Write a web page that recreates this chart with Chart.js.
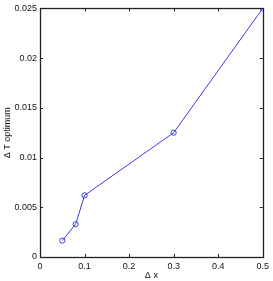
<!DOCTYPE html>
<html>
<head>
<meta charset="utf-8">
<script src="https://cdn.jsdelivr.net/npm/chart.js@4/dist/chart.umd.min.js"></script>
<style>
html,body{margin:0;padding:0;background:#fff;}
#wrap{width:273px;height:281px;}
</style>
</head>
<body>
<div id="wrap"><canvas id="c" width="273" height="281"></canvas></div>
<script>
const dxValues = [0.05, 0.08, 0.1, 0.3, 0.5];
const dtOptimum = [0.00165, 0.0033, 0.0062, 0.0125, 0.025];
const xTicks = [0, 0.1, 0.2, 0.3, 0.4, 0.5];
const yTicks = [0, 0.005, 0.01, 0.015, 0.02, 0.025];
const xTitle = 'Δ x';
const yTitle = 'Δ T optimum';

const points = dxValues.map((x, i) => ({x: x, y: dtOptimum[i]}));
const FONT = {family: 'Liberation Sans, Arial, sans-serif', size: 9};

const boxPlugin = {
  id: 'box',
  afterDraw(chart) {
    const ctx = chart.ctx;
    const a = chart.chartArea;
    const xs = chart.scales.x, ys = chart.scales.y;
    ctx.save();
    ctx.strokeStyle = '#222';
    ctx.lineWidth = 1;
    ctx.beginPath();
    xTicks.forEach(v => {
      const px = Math.round(xs.getPixelForValue(v)) + 0.5;
      ctx.moveTo(px, a.bottom); ctx.lineTo(px, a.bottom - 3);
      ctx.moveTo(px, a.top); ctx.lineTo(px, a.top + 3);
    });
    yTicks.forEach(v => {
      const py = Math.round(ys.getPixelForValue(v)) + 0.5;
      ctx.moveTo(a.left, py); ctx.lineTo(a.left + 3, py);
      ctx.moveTo(a.right, py); ctx.lineTo(a.right - 3, py);
    });
    ctx.stroke();
    ctx.lineWidth = 1.3;
    ctx.strokeRect(Math.round(a.left) + 0.5, Math.round(a.top) + 0.5,
      Math.round(a.right - a.left), Math.round(a.bottom - a.top));
    ctx.restore();
  }
};

new Chart(document.getElementById('c'), {
  type: 'scatter',
  data: {
    datasets: [{
      data: points,
      showLine: true,
      borderColor: 'rgb(60,60,230)',
      backgroundColor: 'rgba(0,0,0,0)',
      borderWidth: 1,
      pointRadius: 2.6,
      pointBorderWidth: 1,
      pointBorderColor: 'rgb(60,60,230)',
      pointBackgroundColor: 'rgba(0,0,0,0)',
      tension: 0
    }]
  },
  options: {
    responsive: false,
    animation: false,
    devicePixelRatio: 1,
    layout: {padding: {top: 7, right: 6, left: 0, bottom: 0}},
    plugins: {legend: {display: false}, tooltip: {enabled: false}},
    scales: {
      x: {
        type: 'linear', min: 0, max: 0.5,
        afterBuildTicks: s => { s.ticks = xTicks.map(v => ({value: v})); },
        afterFit: s => { s.height = 24; },
        grid: {display: false, drawTicks: false},
        border: {display: false},
        ticks: {color: '#111', font: FONT, padding: 4, maxRotation: 0,
          callback: v => String(v)},
        title: {display: true, text: xTitle, color: '#111', font: FONT, padding: {top: 0, bottom: 0}}
      },
      y: {
        type: 'linear', min: 0, max: 0.025,
        afterBuildTicks: s => { s.ticks = yTicks.map(v => ({value: v})); },
        afterFit: s => { s.width = 40; },
        grid: {display: false, drawTicks: false},
        border: {display: false},
        ticks: {color: '#111', font: FONT, padding: 3,
          callback: v => String(Number(v.toFixed(4)))},
        title: {display: true, text: yTitle, color: '#111', font: FONT, padding: {top: 2, bottom: 0}}
      }
    }
  },
  plugins: [boxPlugin]
});
</script>
</body>
</html>
